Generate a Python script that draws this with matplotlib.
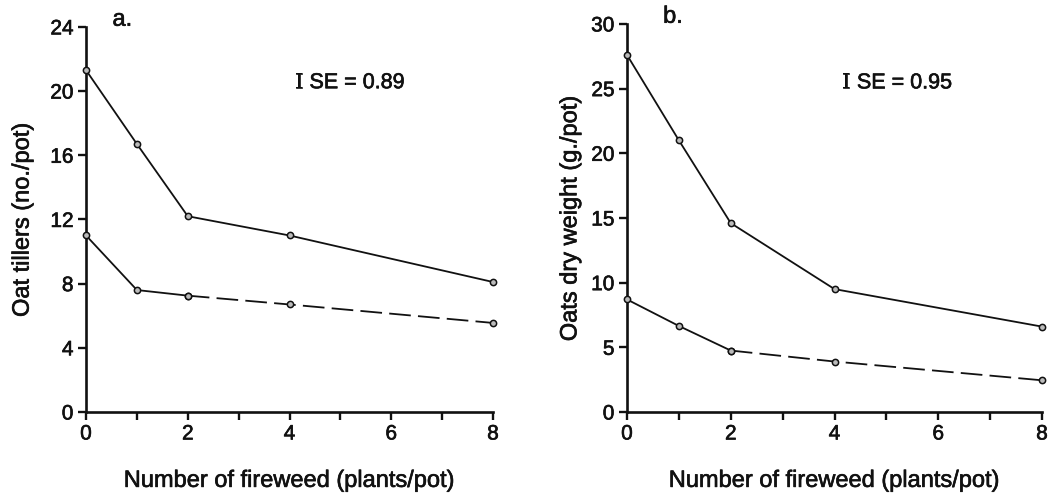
import matplotlib
matplotlib.use("Agg")
import matplotlib.pyplot as plt
import matplotlib.patheffects as pe
from matplotlib.ticker import MultipleLocator

plt.rcParams['font.family'] = ['Liberation Sans', 'DejaVu Sans']

fireweed = [0, 1, 2, 4, 8]
tillers_solid = [21.3, 16.7, 12.2, 11.0, 8.1]
tillers_dashed = [11.0, 7.6, 7.25, 6.7, 5.55]
weight_solid = [27.6, 21.0, 14.6, 9.5, 6.6]
weight_dashed = [8.7, 6.65, 4.75, 3.9, 2.45]

xticks = [0, 2, 4, 6, 8]
yticks_a = [0, 4, 8, 12, 16, 20, 24]
yticks_b = [0, 5, 10, 15, 20, 25, 30]

INK = '#111111'
thick = [pe.withStroke(linewidth=0.45, foreground=INK)]

fig = plt.figure(figsize=(10.57, 4.95), dpi=100)
axA = fig.add_axes([0.0814, 0.1677, 0.385, 0.778])
axB = fig.add_axes([0.5932, 0.1677, 0.3926, 0.784])

def style(ax, ylim, yticks, ylabel, letter, letter_x, se_text, se_x, se_y, ylabelpad):
    ax.set_xlim(0, 8)
    ax.set_ylim(*ylim)
    ax.set_xticks(xticks)
    ax.xaxis.set_minor_locator(MultipleLocator(1))
    ax.set_yticks(yticks)
    for s in ['top', 'right']:
        ax.spines[s].set_visible(False)
    for s in ['left', 'bottom']:
        ax.spines[s].set_linewidth(1.9)
        ax.spines[s].set_color(INK)
    ax.tick_params(axis='both', which='both', direction='out', width=1.7, color=INK,
                   labelsize=15, length=6, pad=3, labelcolor=INK)
    for lab in ax.get_xticklabels() + ax.get_yticklabels():
        lab.set_path_effects(thick)
    ax.set_ylabel(ylabel, fontsize=17, labelpad=ylabelpad, color=INK, path_effects=thick)
    ax.set_xlabel('Number of fireweed (plants/pot)', fontsize=17, labelpad=19, color=INK,
                  path_effects=thick)
    ax.text(letter_x, 1.003, letter, transform=ax.transAxes, fontsize=17,
            va='baseline', ha='left', color=INK, path_effects=thick)
    ax.text(se_x, se_y, 'I', transform=ax.transAxes, fontsize=15,
            family='DejaVu Serif', va='center', ha='left', color=INK, path_effects=thick)
    ax.text(se_x + 0.036, se_y, se_text, transform=ax.transAxes, fontsize=15.5,
            va='center', ha='left', color=INK, path_effects=thick)

def draw(ax, solid, dashed):
    kw = dict(color=INK, lw=1.3, marker='o', ms=4.5, mfc='#bbbbbb', mec=INK,
              mew=1.1, clip_on=False, zorder=3)
    ax.plot(fireweed, solid, **kw)
    ax.plot(fireweed[:3], dashed[:3], **kw)
    ax.plot(fireweed[2:], dashed[2:], dashes=(12, 4), **kw)

draw(axA, tillers_solid, tillers_dashed)
style(axA, (0, 24), yticks_a, 'Oat tillers (no./pot)', 'a.', 0.065,
      'SE = 0.89', 0.513, 0.855, 12)
draw(axB, weight_solid, weight_dashed)
style(axB, (0, 30), yticks_b, 'Oats dry weight (g./pot)', 'b.', 0.087,
      'SE = 0.95', 0.518, 0.848, 7)

fig.savefig('out.png', dpi=100)
